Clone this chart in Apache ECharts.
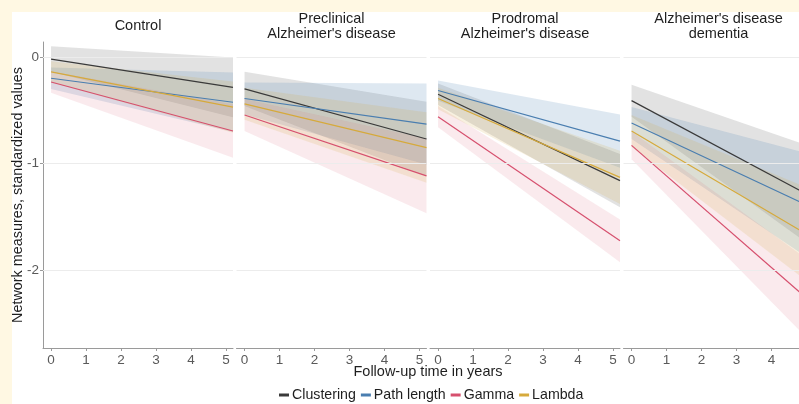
<!DOCTYPE html>
<html>
<head>
<meta charset="utf-8">
<script src="https://cdn.jsdelivr.net/npm/echarts@6/dist/echarts.min.js"></script>
<style>
  html, body { margin: 0; padding: 0; background: #FFF8E3; overflow: hidden; }
  #frame { position: absolute; left: 12px; top: 12px; width: 787px; height: 392px; background: #ffffff; }
  #chart { position: absolute; left: 0; top: 0; width: 830px; height: 404px; }
</style>
</head>
<body>
<div id="frame"></div>
<div id="chart"></div>
<script>
// Facets (diagnostic groups) and network measures
const panels = ['Control', 'Preclinical\nAlzheimer\'s disease', 'Prodromal\nAlzheimer\'s disease', 'Alzheimer\'s disease\ndementia'];
const measures = ['Clustering', 'Path length', 'Gamma', 'Lambda'];

// Follow-up span of the fitted trajectories (years)
const followUp = [0, 5.2];
const xTicks = [0, 1, 2, 3, 4, 5];
const yTicks = [-2, -1, 0];

// Fitted standardized values at start and end of follow-up, one entry per facet
const clusteringStart = [-0.02, -0.30, -0.35, -0.41];
const clusteringEnd   = [-0.285, -0.77, -1.16, -1.32];
const pathStart       = [-0.20, -0.39, -0.315, -0.62];
const pathEnd         = [-0.425, -0.63, -0.79, -1.42];
const gammaStart      = [-0.235, -0.545, -0.56, -0.83];
const gammaEnd        = [-0.695, -1.115, -1.725, -2.32];
const lambdaStart     = [-0.14, -0.44, -0.39, -0.695];
const lambdaEnd       = [-0.47, -0.85, -1.13, -1.70];

// Confidence band half-widths at start and end of follow-up
const clusteringCIStart = [0.12, 0.16, 0.10, 0.15];
const clusteringCIEnd   = [0.28, 0.35, 0.25, 0.47];
const pathCIStart       = [0.10, 0.15, 0.095, 0.15];
const pathCIEnd         = [0.28, 0.38, 0.25, 0.50];
const gammaCIStart      = [0.10, 0.15, 0.10, 0.13];
const gammaCIEnd        = [0.25, 0.35, 0.20, 0.38];
const lambdaCIStart     = [0.10, 0.15, 0.10, 0.15];
const lambdaCIEnd       = [0.24, 0.33, 0.25, 0.45];

const lineColors = ['#3a3a3a', '#4a7eb0', '#d6506e', '#d6aa3c'];
const bandColors = ['rgba(110,110,110,0.20)', 'rgba(74,126,176,0.18)', 'rgba(214,80,110,0.12)', 'rgba(214,170,60,0.16)'];

const fits = [
  [clusteringStart, clusteringEnd, clusteringCIStart, clusteringCIEnd],
  [pathStart, pathEnd, pathCIStart, pathCIEnd],
  [gammaStart, gammaEnd, gammaCIStart, gammaCIEnd],
  [lambdaStart, lambdaEnd, lambdaCIStart, lambdaCIEnd]
];

const FONT = '"Liberation Sans", Arial, Helvetica, sans-serif';
const panelLeft = [43, 236.5, 430, 623.5];
const panelWidth = 190;
const gridTop = 42;
const gridHeight = 306;

const grids = [], xAxes = [], yAxes = [], series = [], graphics = [];

panels.forEach((name, p) => {
  grids.push({ left: panelLeft[p], top: gridTop, width: panelWidth, height: gridHeight, containLabel: false });
  xAxes.push({
    type: 'value', gridIndex: p, min: -0.23, max: 5.2, position: 'bottom',
    axisLine: { show: true, onZero: false, lineStyle: { color: '#9a9a9a', width: 1 } },
    axisTick: { show: true, length: 3, lineStyle: { color: '#9a9a9a' }, customValues: xTicks },
    axisLabel: { show: true, color: '#5a5a5a', fontSize: 13.5, fontFamily: FONT, margin: 5, customValues: xTicks },
    splitLine: { show: false }
  });
  yAxes.push({
    type: 'value', gridIndex: p, min: -2.73, max: 0.14, position: 'left',
    axisLine: { show: p === 0, onZero: false, lineStyle: { color: '#9a9a9a', width: 1 } },
    axisTick: { show: p === 0, length: 3, lineStyle: { color: '#9a9a9a' }, customValues: yTicks },
    axisLabel: { show: p === 0, color: '#5a5a5a', fontSize: 13.5, fontFamily: FONT, margin: 4, customValues: yTicks },
    splitLine: { show: false }
  });

  // horizontal reference lines at the labelled values
  series.push({
    type: 'line', xAxisIndex: p, yAxisIndex: p, data: [], silent: true,
    markLine: {
      silent: true, symbol: 'none', label: { show: false },
      lineStyle: { color: '#ececec', width: 1, type: 'solid' },
      data: yTicks.map(v => ({ yAxis: v }))
    }
  });

  // confidence bands
  fits.forEach((f, m) => {
    const [s, e, cs, ce] = f;
    series.push({
      type: 'custom', name: measures[m] + ' band', xAxisIndex: p, yAxisIndex: p, silent: true,
      encode: { x: [0, 3], y: [1, 2, 4, 5] },
      data: [[followUp[0], s[p] - cs[p], s[p] + cs[p], followUp[1], e[p] - ce[p], e[p] + ce[p]]],
      renderItem: (params, api) => {
        const a = api.coord([api.value(0), api.value(2)]);
        const b = api.coord([api.value(3), api.value(5)]);
        const c = api.coord([api.value(3), api.value(4)]);
        const d = api.coord([api.value(0), api.value(1)]);
        return { type: 'polygon', shape: { points: [a, b, c, d] }, style: { fill: bandColors[m] } };
      },
      z: 2
    });
  });

  // fitted trajectories
  fits.forEach((f, m) => {
    const [s, e] = f;
    series.push({
      type: 'line', name: measures[m], xAxisIndex: p, yAxisIndex: p,
      data: [[followUp[0], s[p]], [followUp[1], e[p]]],
      showSymbol: false, symbol: 'none', silent: true,
      lineStyle: { color: lineColors[m], width: 1.2 },
      itemStyle: { color: lineColors[m] },
      z: 3
    });
  });

  graphics.push({
    type: 'text',
    x: panelLeft[p] + panelWidth / 2, y: 26,
    style: {
      text: name, fill: '#1e1e1e', font: '14.5px ' + FONT,
      textAlign: 'center', textVerticalAlign: 'middle', lineHeight: 15
    }
  });
});

graphics.push({
  type: 'text', x: 18, y: 195, rotation: Math.PI / 2,
  style: { text: 'Network measures, standardized values', fill: '#1e1e1e', font: '14.4px ' + FONT,
           textAlign: 'center', textVerticalAlign: 'middle' }
});
graphics.push({
  type: 'text', x: 428, y: 372,
  style: { text: 'Follow-up time in years', fill: '#1e1e1e', font: '14.5px ' + FONT,
           textAlign: 'center', textVerticalAlign: 'middle' }
});

const chart = echarts.init(document.getElementById('chart'), null, { renderer: 'canvas' });
chart.setOption({
  backgroundColor: 'transparent',
  animation: false,
  grid: grids,
  xAxis: xAxes,
  yAxis: yAxes,
  series: series,
  graphic: graphics,
  legend: {
    data: measures,
    left: 274, top: 383,
    icon: 'rect', itemWidth: 10, itemHeight: 3, itemGap: 5,
    textStyle: { fontSize: 14.2, color: '#1e1e1e', fontFamily: FONT, padding: [0, 0, 0, -2] },
    selectedMode: false
  }
});
</script>
</body>
</html>
